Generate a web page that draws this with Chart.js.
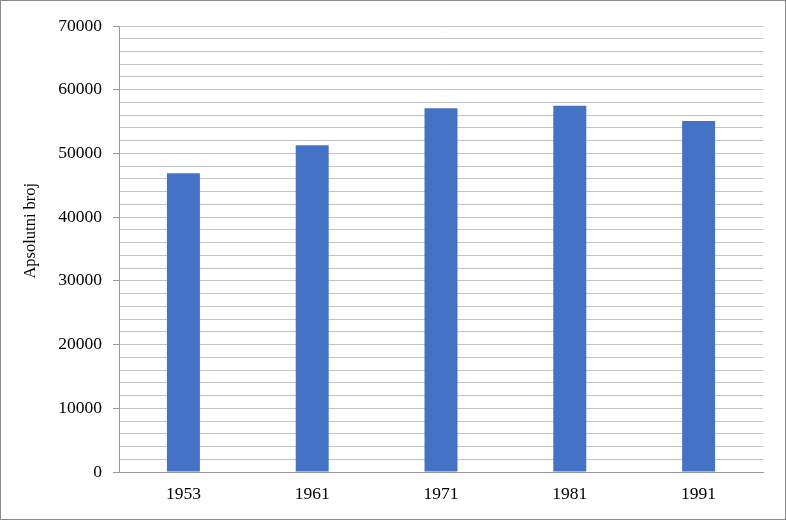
<!DOCTYPE html>
<html>
<head>
<meta charset="utf-8">
<script src="https://cdn.jsdelivr.net/npm/chart.js@4/dist/chart.umd.min.js"></script>
<style>
  html, body { margin: 0; padding: 0; background: #fff; }
  #wrap { width: 786px; height: 520px; position: relative; }
</style>
</head>
<body>
<div id="wrap"><canvas id="c" width="786" height="520"></canvas></div>
<script>
const categories = ['1953', '1961', '1971', '1981', '1991'];
const values = [46900, 51300, 57100, 57500, 55100];
const yMin = 0;
const yMax = 70000;
const yMajorStep = 10000;
const yMinorStep = 2000;
const yTitle = 'Apsolutni broj';

const FONT = '"Liberation Serif", "Times New Roman", serif';
const GRID = '#c3c3c3';
const AXIS = '#9a9a9a';

const framePlugin = {
  id: 'frame',
  afterDraw(chart) {
    const ctx = chart.ctx;
    ctx.save();
    ctx.strokeStyle = '#8a8a8a';
    ctx.lineWidth = 1;
    ctx.strokeRect(0.5, 0.5, chart.width - 1, chart.height - 1);
    // y axis title
    ctx.fillStyle = '#000';
    ctx.font = '16.5px ' + FONT;
    ctx.textAlign = 'center';
    ctx.textBaseline = 'middle';
    ctx.translate(31, chart.chartArea.top + (chart.chartArea.bottom - chart.chartArea.top) * 0.459);
    ctx.rotate(-Math.PI / 2);
    ctx.fillText(yTitle, 0, 0);
    ctx.restore();
  }
};

new Chart(document.getElementById('c'), {
  type: 'bar',
  data: {
    labels: categories,
    datasets: [{
      data: values,
      backgroundColor: '#4472c4',
      borderWidth: 0,
      categoryPercentage: 1,
      barPercentage: 0.256
    }]
  },
  options: {
    responsive: false,
    devicePixelRatio: 1,
    animation: false,
    layout: { padding: { top: 26, right: 23, bottom: 0, left: 0 } },
    plugins: { legend: { display: false }, tooltip: { enabled: false } },
    scales: {
      x: {
        grid: { display: false, drawTicks: false },
        border: { display: true, color: AXIS, width: 1 },
        ticks: { color: '#000', font: { family: FONT, size: 17.5 }, padding: 12, maxRotation: 0 },
        afterFit: s => { s.height = 48; }
      },
      y: {
        min: yMin,
        max: yMax,
        grid: {
          color: GRID,
          lineWidth: 1,
          drawTicks: true,
          tickLength: 6,
          tickColor: ctx => (ctx.tick && ctx.tick.value % yMajorStep === 0) ? AXIS : 'rgba(0,0,0,0)'
        },
        border: { display: true, color: AXIS, width: 1 },
        ticks: {
          stepSize: yMinorStep,
          maxTicksLimit: 200,
          autoSkip: false,
          color: '#000',
          font: { family: FONT, size: 17.5 },
          padding: 11,
          callback: v => (v % yMajorStep === 0 ? String(v) : '')
        },
        afterFit: s => { s.width = 119; }
      }
    }
  },
  plugins: [framePlugin]
});
</script>
</body>
</html>
